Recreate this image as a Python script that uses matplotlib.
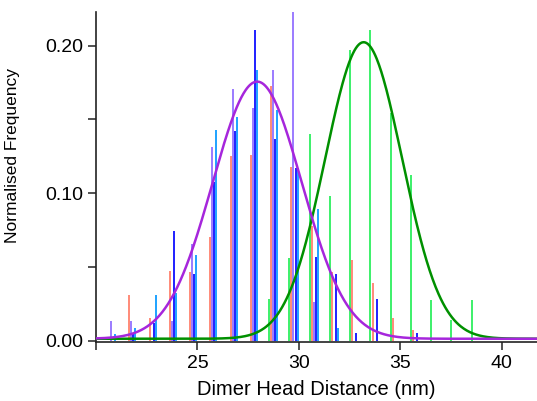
import numpy as np
import matplotlib
matplotlib.use("Agg")
import matplotlib.pyplot as plt
from matplotlib.ticker import FixedLocator

plt.rcParams['font.family'] = ['Liberation Sans', 'DejaVu Sans']

# bin centres of the four short-distance data sets (nm)
bin_centres = [20.8, 21.8, 22.8, 23.8, 24.8, 25.8, 26.8, 27.8,
               28.8, 29.8, 30.8, 31.8, 32.8, 33.8, 34.8, 35.8]
salmon = [0.0, 0.031, 0.0156, 0.047, 0.0468, 0.0705, 0.1254, 0.126,
          0.1727, 0.118, 0.078, 0.0468, 0.0547, 0.0389, 0.0156, 0.0073]
violet = [0.013, 0.013, 0.0, 0.013, 0.0653, 0.131, 0.1704, 0.1576,
          0.1835, 0.225, 0.0265, 0.0, 0.0, 0.0, 0.0, 0.0]
blue = [0.0, 0.005, 0.012, 0.074, 0.0452, 0.1078, 0.1424, 0.2107,
        0.1365, 0.117, 0.057, 0.0452, 0.0054, 0.0283, 0.0, 0.005]
sky = [0.0043, 0.0088, 0.031, 0.0325, 0.0579, 0.1429, 0.1519, 0.1835,
       0.1564, 0.117, 0.089, 0.0088, 0.0, 0.0, 0.0, 0.0]

# long-distance data set
green_centres = [28.53, 29.53, 30.53, 31.53, 32.53, 33.53, 34.53,
                 35.53, 36.53, 37.53, 38.53]
green = [0.028, 0.056, 0.14, 0.098, 0.197, 0.2106, 0.154, 0.112,
         0.0276, 0.014, 0.0276]

# gaussian fits: (y0, amplitude, centre, width)
fit_violet = (0.0013, 0.1743, 27.95, 2.2)
fit_green = (0.0013, 0.201, 33.2, 1.9)

fig = plt.figure(figsize=(5.37, 4.01), dpi=100)
ax = fig.add_axes([0.1788, 0.1464, 0.8212, 0.8245])

offsets = [-0.16, -0.06, 0.04, 0.14]
cols = ['#ff8a78', '#9b7bff', '#1f1fff', '#1ea2ff']
bc = np.array(bin_centres)
for off, vals, c in zip(offsets, [salmon, violet, blue, sky], cols):
    ax.vlines(bc + off, 0, vals, colors=c, lw=1.4, zorder=2)
ax.vlines(green_centres, 0, green, colors='#3cf06a', lw=1.4, zorder=2)

xx = np.linspace(20, 42, 600)
def gauss(x, p):
    y0, a, m, s = p
    return y0 + a * np.exp(-(x - m) ** 2 / (2 * s ** 2))

ax.plot(xx, gauss(xx, fit_green), color='#009000', lw=1.8, zorder=3)
ax.plot(xx, gauss(xx, fit_violet), color='#a626dc', lw=1.8, zorder=4)

ax.set_xlim(20.0, 41.75)
ax.set_ylim(-0.0011, 0.223)

ax.spines['top'].set_visible(False)
ax.spines['right'].set_visible(False)
for s in ['left', 'bottom']:
    ax.spines[s].set_linewidth(1.2)
    ax.spines[s].set_color('#222222')

ax.set_xticks([25, 30, 35, 40])
ax.xaxis.set_minor_locator(FixedLocator([20]))
ax.set_yticks([0.0, 0.10, 0.20])
ax.set_yticklabels(['0.00', '0.10', '0.20'])
ax.yaxis.set_minor_locator(FixedLocator([0.05, 0.15]))
ax.tick_params(which='both', direction='out', length=6, width=1.1,
               color='#222222', labelsize=14, pad=3)

ax.set_xlabel('Dimer Head Distance (nm)', fontsize=14.5, labelpad=6)
ax.set_ylabel('Normalised Frequency', fontsize=12.5)
ax.yaxis.set_label_coords(-0.172, 0.5635)

fig.savefig('out.png', dpi=100)
